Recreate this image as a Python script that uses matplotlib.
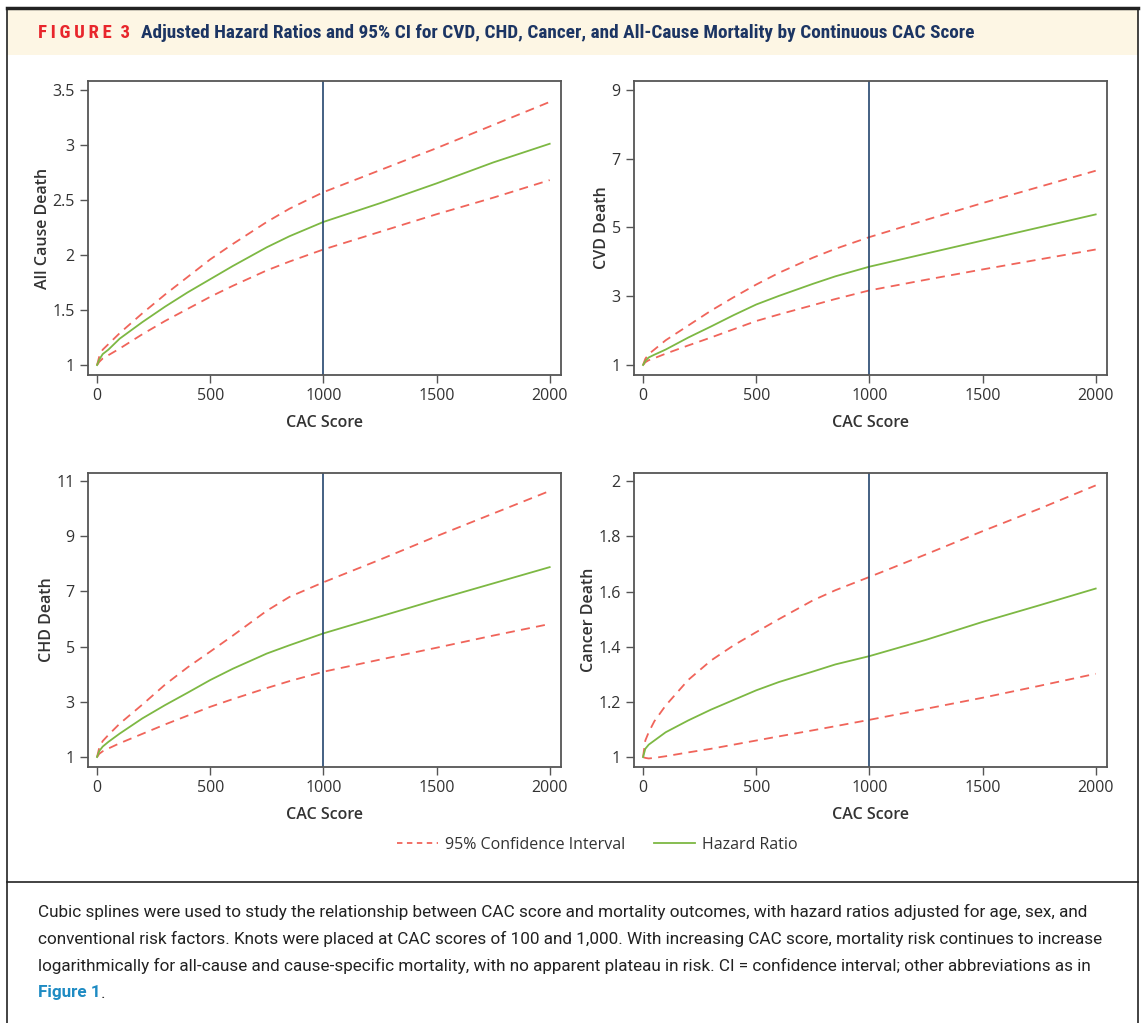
import matplotlib
matplotlib.use("Agg")
import matplotlib.pyplot as plt
from matplotlib.lines import Line2D
from matplotlib.patches import Rectangle
from matplotlib import font_manager

# ---- data ----
cac = [0, 10, 25, 50, 100, 200, 300, 400, 500, 600, 750, 850, 1000, 1250, 1500, 1750, 2000]

all_hr = [1.0, 1.05, 1.10, 1.14, 1.24, 1.39, 1.53, 1.66, 1.78, 1.90, 2.07, 2.17, 2.30, 2.47, 2.65, 2.84, 3.01]
all_up = [1.0, 1.08, 1.14, 1.19, 1.29, 1.47, 1.64, 1.80, 1.96, 2.10, 2.30, 2.42, 2.57, 2.77, 2.97, 3.18, 3.39]
all_lo = [1.0, 1.03, 1.06, 1.09, 1.15, 1.28, 1.40, 1.51, 1.62, 1.72, 1.86, 1.94, 2.05, 2.21, 2.37, 2.52, 2.68]

cvd_hr = [1.0, 1.12, 1.22, 1.30, 1.45, 1.80, 2.12, 2.45, 2.76, 3.01, 3.36, 3.58, 3.86, 4.24, 4.62, 5.00, 5.38]
cvd_up = [1.0, 1.18, 1.32, 1.45, 1.72, 2.15, 2.58, 2.97, 3.34, 3.68, 4.12, 4.38, 4.72, 5.22, 5.71, 6.18, 6.65]
cvd_lo = [1.0, 1.08, 1.14, 1.20, 1.33, 1.57, 1.80, 2.04, 2.28, 2.47, 2.74, 2.92, 3.17, 3.48, 3.78, 4.07, 4.36]

chd_hr = [1.0, 1.22, 1.38, 1.55, 1.85, 2.40, 2.88, 3.33, 3.79, 4.20, 4.75, 5.05, 5.48, 6.09, 6.70, 7.29, 7.88]
chd_up = [1.0, 1.35, 1.58, 1.80, 2.21, 2.90, 3.62, 4.25, 4.82, 5.40, 6.30, 6.80, 7.33, 8.15, 9.00, 9.82, 10.64]
chd_lo = [1.0, 1.12, 1.21, 1.31, 1.50, 1.84, 2.18, 2.50, 2.82, 3.10, 3.50, 3.75, 4.09, 4.53, 4.96, 5.40, 5.82]

can_hr = [1.0, 1.03, 1.045, 1.06, 1.09, 1.133, 1.172, 1.207, 1.242, 1.272, 1.31, 1.336, 1.366, 1.425, 1.49, 1.55, 1.611]
can_up = [1.0, 1.06, 1.09, 1.13, 1.187, 1.28, 1.35, 1.405, 1.453, 1.50, 1.568, 1.605, 1.653, 1.735, 1.819, 1.90, 1.985]
can_lo = [1.0, 0.997, 0.995, 0.997, 1.003, 1.017, 1.03, 1.045, 1.06, 1.075, 1.097, 1.112, 1.135, 1.175, 1.215, 1.258, 1.302]

panels = [
    ("All Cause Death", all_hr, all_up, all_lo, [1, 1.5, 2, 2.5, 3, 3.5], ["1", "1.5", "2", "2.5", "3", "3.5"], (0.91, 3.58)),
    ("CVD Death", cvd_hr, cvd_up, cvd_lo, [1, 3, 5, 7, 9], ["1", "3", "5", "7", "9"], (0.71, 9.26)),
    ("CHD Death", chd_hr, chd_up, chd_lo, [1, 3, 5, 7, 9, 11], ["1", "3", "5", "7", "9", "11"], (0.64, 11.29)),
    ("Cancer Death", can_hr, can_up, can_lo, [1, 1.2, 1.4, 1.6, 1.8, 2], ["1", "1.2", "1.4", "1.6", "1.8", "2"], (0.964, 2.03)),
]
x_ticks = [0, 500, 1000, 1500, 2000]

caption = [
    "Cubic splines were used to study the relationship between CAC score and mortality outcomes, with hazard ratios adjusted for age, sex, and",
    "conventional risk factors. Knots were placed at CAC scores of 100 and 1,000. With increasing CAC score, mortality risk continues to increase",
    "logarithmically for all-cause and cause-specific mortality, with no apparent plateau in risk. CI = confidence interval; other abbreviations as in",
]

# ---- style ----
RED = "#F0645A"
GREEN = "#7DB843"
NAVY = "#24466E"
TITLE_RED = "#E8262C"
TITLE_NAVY = "#1C3563"


def pick(names):
    avail = {f.name for f in font_manager.fontManager.ttflist}
    for n in names:
        if n in avail:
            return n
    return "DejaVu Sans"


narrow = pick(["Liberation Sans Narrow", "Roboto Condensed", "Open Sans Condensed", "Roboto"])
plain = pick(["Open Sans", "Noto Sans", "Lato"])
body = pick(["Roboto", "Lato", "Noto Sans"])
plt.rcParams["font.family"] = [plain, "DejaVu Sans"]

W, H = 1142, 1023
fig = plt.figure(figsize=(W / 100, H / 100), dpi=100)


def rect(l, t, r, b):
    return [l / W, 1 - b / H, (r - l) / W, (b - t) / H]


boxes = [(88, 81, 561, 375), (634, 81, 1107, 375), (88, 473, 561, 767), (634, 473, 1107, 767)]
dash = (0, (5, 3.5))

for (ylab, hr, up, lo, yt, ytl, ylim), box in zip(panels, boxes):
    ax = fig.add_axes(rect(*box))
    ax.plot(cac, up, color=RED, lw=1.3, ls=dash)
    ax.plot(cac, lo, color=RED, lw=1.3, ls=dash)
    ax.plot(cac, hr, color=GREEN, lw=1.3)
    ax.axvline(1000, color=NAVY, lw=1.2)
    ax.set_xlim(-40, 2050)
    ax.set_ylim(*ylim)
    ax.set_xticks(x_ticks)
    ax.set_xticklabels([str(v) for v in x_ticks])
    ax.set_yticks(yt)
    ax.set_yticklabels(ytl)
    ax.tick_params(direction="out", length=6, width=1, color="#555555",
                   labelsize=11.5, labelcolor="#333333")
    for s in ax.spines.values():
        s.set_color("#555555")
        s.set_linewidth(1.3)
    ax.set_xlabel("CAC Score", fontsize=11.5, color="#333333", fontweight="semibold", labelpad=8)
    ax.set_ylabel(ylab, fontsize=11.5, color="#333333", fontweight="semibold", labelpad=1)

handles = [Line2D([], [], color=RED, lw=1.3, ls=(0, (3, 2.5))),
           Line2D([], [], color=GREEN, lw=1.3)]
fig.legend(handles, ["95% Confidence Interval", "Hazard Ratio"], loc="center",
           bbox_to_anchor=(597 / W, 1 - 845 / H), ncol=2, frameon=False,
           fontsize=11.5, handlelength=2.6, handletextpad=0.4, columnspacing=1.8,
           labelcolor="#333333")

# ---- frame and header ----
fig.add_artist(Rectangle((7 / W, 1 - 55 / H), 1131 / W, 45 / H, transform=fig.transFigure,
                         facecolor="#FDF6E4", edgecolor="none", zorder=0))
fig.add_artist(Line2D([7 / W, 1138 / W], [1 - 8 / H, 1 - 8 / H], transform=fig.transFigure, color="#222222", lw=2.5))
fig.add_artist(Line2D([7 / W, 7 / W], [0, 1 - 8 / H], transform=fig.transFigure, color="#222222", lw=1.2))
fig.add_artist(Line2D([1138 / W, 1138 / W], [0, 1 - 8 / H], transform=fig.transFigure, color="#222222", lw=1.2))
fig.add_artist(Line2D([7 / W, 1138 / W], [1 - 882 / H, 1 - 882 / H], transform=fig.transFigure, color="#222222", lw=1.2))

t1 = fig.text(38 / W, 1 - 33 / H, "\u2009".join("FIGURE") + "  3", color=TITLE_RED, fontsize=13.5,
              fontweight="bold", family=[narrow, "DejaVu Sans"], va="center")
fig.canvas.draw()
bb = t1.get_window_extent()
fig.text((bb.x1 + 11) / W, 1 - 33 / H,
         "Adjusted Hazard Ratios and 95% CI for CVD, CHD, Cancer, and All-Cause Mortality by Continuous CAC Score",
         color=TITLE_NAVY, fontsize=13.9, fontweight="bold", family=[narrow, "DejaVu Sans"], va="center")

for i, line in enumerate(caption):
    fig.text(38 / W, 1 - (912 + 27 * i) / H, line, fontsize=12.3, color="#222222",
             family=[body, "DejaVu Sans"], va="center")
t2 = fig.text(38 / W, 1 - 993 / H, "Figure 1", fontsize=12.3, color="#1E8BC3", fontweight="bold",
              family=[body, "DejaVu Sans"], va="center")
fig.canvas.draw()
bb = t2.get_window_extent()
fig.text(bb.x1 / W, 1 - 993 / H, ".", fontsize=12.3, color="#222222", family=[body, "DejaVu Sans"], va="center")

fig.savefig("out.png", dpi=100)
